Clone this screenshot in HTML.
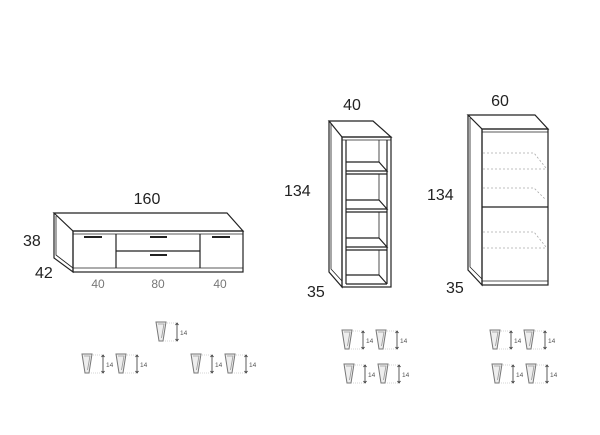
<!DOCTYPE html>
<html><head><meta charset="utf-8"><style>
html,body{margin:0;padding:0;background:#fff}
svg{display:block}
text{font-family:"Liberation Sans",sans-serif}
</style></head><body>
<svg width="600" height="435" viewBox="0 0 600 435" xmlns="http://www.w3.org/2000/svg">
<defs>
<g id="ic">
  <path d="M0,0 L10,0 L7,19 L3,19 Z" fill="#eee" stroke="#777" stroke-width="1"/>
  <path d="M2,2 L8,2 L5.5,16" fill="none" stroke="#999" stroke-width="0.8"/>
  <path d="M9,1 L22,1 M7,19 L22,19" stroke="#aaa" stroke-width="0.6" stroke-dasharray="1,1"/>
  <line x1="21" y1="2" x2="21" y2="18" stroke="#333" stroke-width="0.8"/>
  <path d="M19.5,3 L21,1 L22.5,3 M19.5,17 L21,19 L22.5,17" fill="none" stroke="#333" stroke-width="0.8"/>
  <text x="24" y="13" font-size="6.5" fill="#555">14</text>
</g>
</defs>
<g fill="none" stroke="#222" stroke-width="1.2">
<path d="M54,213 L227,213 L243,231 L73,231 Z"/>
<path d="M54,213 L54,258 L73,272 L73,231"/>
<path d="M56,216 L56,255 L73,268" stroke-width="0.8"/>
<rect x="73" y="231" width="170" height="41"/>
<line x1="73" y1="234" x2="243" y2="234" stroke-width="0.8"/>
<line x1="73" y1="268" x2="243" y2="268" stroke-width="0.8"/>
<line x1="116" y1="234" x2="116" y2="268"/>
<line x1="200" y1="234" x2="200" y2="268"/>
<line x1="116" y1="251" x2="200" y2="251"/>
<g stroke-width="2"><line x1="84" y1="237" x2="102" y2="237"/><line x1="150" y1="237" x2="167" y2="237"/><line x1="150" y1="255" x2="167" y2="255"/><line x1="212" y1="237" x2="230" y2="237"/></g>
<path d="M329,121 L373,121 L391,137 L342,137 Z"/>
<path d="M329,121 L329,272 L342,287 L342,137"/>
<path d="M331,124 L331,269 L342,281" stroke-width="0.8"/>
<rect x="342" y="137" width="49" height="150"/>
<line x1="342" y1="140" x2="391" y2="140" stroke-width="0.8"/>
<line x1="346" y1="140" x2="346" y2="284"/>
<line x1="387" y1="140" x2="387" y2="284"/>
<line x1="346" y1="284" x2="387" y2="284"/>
<path d="M346,162 L379,162 L387,171 L346,171 M346,174 L387,174"/>
<path d="M346,200 L379,200 L387,209 L346,209 M346,212 L387,212"/>
<path d="M346,238 L379,238 L387,247 L346,247 M346,250 L387,250"/>
<path d="M346,275 L379,275 L387,284"/>
<line x1="379" y1="140" x2="379" y2="162" stroke-width="0.8"/>
<line x1="379" y1="174" x2="379" y2="200" stroke-width="0.8"/>
<line x1="379" y1="212" x2="379" y2="238" stroke-width="0.8"/>
<line x1="379" y1="250" x2="379" y2="275" stroke-width="0.8"/>
<path d="M468,115 L535,115 L548,129 L482,129 Z"/>
<path d="M468,115 L468,270 L482,285 L482,129"/>
<path d="M470,118 L470,267 L482,279" stroke-width="0.8"/>
<rect x="482" y="129" width="66" height="156"/>
<line x1="482" y1="132" x2="548" y2="132" stroke-width="0.8"/>
<line x1="482" y1="281" x2="548" y2="281" stroke-width="0.8"/>
<line x1="482" y1="207" x2="548" y2="207"/>
</g>
<g fill="none" stroke="#aaa" stroke-width="0.8" stroke-dasharray="2,2">
<path d="M483,153 L534,153 L546,168 M483,169 L547,169"/>
<path d="M483,188 L534,188 L546,200"/>
<path d="M483,232 L534,232 L546,247 M483,248 L547,248"/>
</g>
<g font-size="16" fill="#222">
<text x="147" y="204" text-anchor="middle">160</text>
<text x="23" y="246">38</text>
<text x="35" y="278">42</text>
<text x="352" y="110" text-anchor="middle">40</text>
<text x="284" y="196">134</text>
<text x="307" y="297">35</text>
<text x="500" y="106" text-anchor="middle">60</text>
<text x="427" y="200">134</text>
<text x="446" y="293">35</text>
</g>
<g font-size="12" fill="#777" text-anchor="middle">
<text x="98" y="288">40</text><text x="158" y="288">80</text><text x="220" y="288">40</text>
</g>
<use href="#ic" x="156" y="322"/>
<use href="#ic" x="82" y="354"/><use href="#ic" x="116" y="354"/>
<use href="#ic" x="191" y="354"/><use href="#ic" x="225" y="354"/>
<use href="#ic" x="342" y="330"/><use href="#ic" x="376" y="330"/>
<use href="#ic" x="344" y="364"/><use href="#ic" x="378" y="364"/>
<use href="#ic" x="490" y="330"/><use href="#ic" x="524" y="330"/>
<use href="#ic" x="492" y="364"/><use href="#ic" x="526" y="364"/>
</svg>
</body></html>
